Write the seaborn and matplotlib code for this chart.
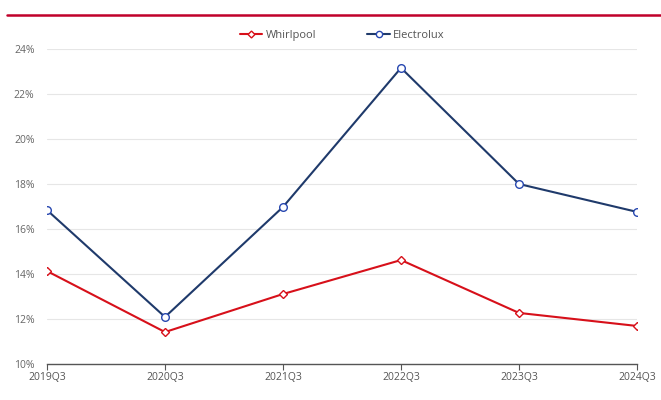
import matplotlib
matplotlib.use('Agg')
import matplotlib.pyplot as plt
import seaborn as sns
import pandas as pd
from matplotlib.lines import Line2D
from matplotlib.ticker import FuncFormatter

quarters = ['2019Q3', '2020Q3', '2021Q3', '2022Q3', '2023Q3', '2024Q3']
whirlpool = [14.13, 11.42, 13.11, 14.62, 12.27, 11.69]
electrolux = [16.84, 12.09, 16.98, 23.16, 18.0, 16.76]

sns.set_style('white')
plt.rcParams['font.family'] = ['Open Sans', 'DejaVu Sans']

df = pd.DataFrame({'quarter': quarters * 2,
                   'value': whirlpool + electrolux,
                   'company': ['Whirlpool'] * 6 + ['Electrolux'] * 6})

red = '#d7101a'
navy = '#1f3a6b'
blue_edge = '#2747b0'

fig = plt.figure(figsize=(6.61, 4.0), dpi=100)
ax = fig.add_axes([0.0711, 0.09, 0.8926, 0.7875])

sns.lineplot(data=df[df.company == 'Whirlpool'], x='quarter', y='value', ax=ax,
             color=red, linewidth=1.5, marker='D', markersize=4,
             markerfacecolor='white', markeredgecolor=red, markeredgewidth=1.0,
             sort=False)
sns.lineplot(data=df[df.company == 'Electrolux'], x='quarter', y='value', ax=ax,
             color=navy, linewidth=1.5, marker='o', markersize=5.5,
             markerfacecolor='white', markeredgecolor=blue_edge, markeredgewidth=1.0,
             sort=False)

ax.set_xlim(0, len(quarters) - 1)
ax.set_ylim(10, 24)
ax.set_yticks(range(10, 25, 2))
ax.yaxis.set_major_formatter(FuncFormatter(lambda v, p: f'{int(v)}%'))
ax.grid(axis='y', color='#e6e6e6', linewidth=0.8)
ax.set_axisbelow(True)
ax.set_xlabel('')
ax.set_ylabel('')
for s in ['top', 'right', 'left']:
    ax.spines[s].set_visible(False)
ax.spines['bottom'].set_color('#555555')
ax.spines['bottom'].set_linewidth(1.0)
ax.tick_params(axis='x', length=4, color='#555555', colors='#555555', labelsize=7.5, pad=2, direction='out', bottom=True)
ax.tick_params(axis='y', length=0, colors='#666666', labelsize=7.5, pad=9)

handles = [Line2D([], [], color=red, linewidth=1.5, marker='D', markersize=3.5,
                  markerfacecolor='white', markeredgecolor=red),
           Line2D([], [], color=navy, linewidth=1.5, marker='o', markersize=4.5,
                  markerfacecolor='white', markeredgecolor=blue_edge)]
fig.legend(handles, ['Whirlpool', 'Electrolux'], loc='center', bbox_to_anchor=(0.518, 0.911),
           ncol=2, frameon=False, fontsize=8, handlelength=2.0, handletextpad=0.3,
           columnspacing=4.6, labelcolor='#555555')

fig.add_artist(Line2D([0.01, 1.0], [0.9625, 0.9625], color='#c0002a', linewidth=1.8,
                      transform=fig.transFigure))

fig.savefig('out.png', dpi=100)
